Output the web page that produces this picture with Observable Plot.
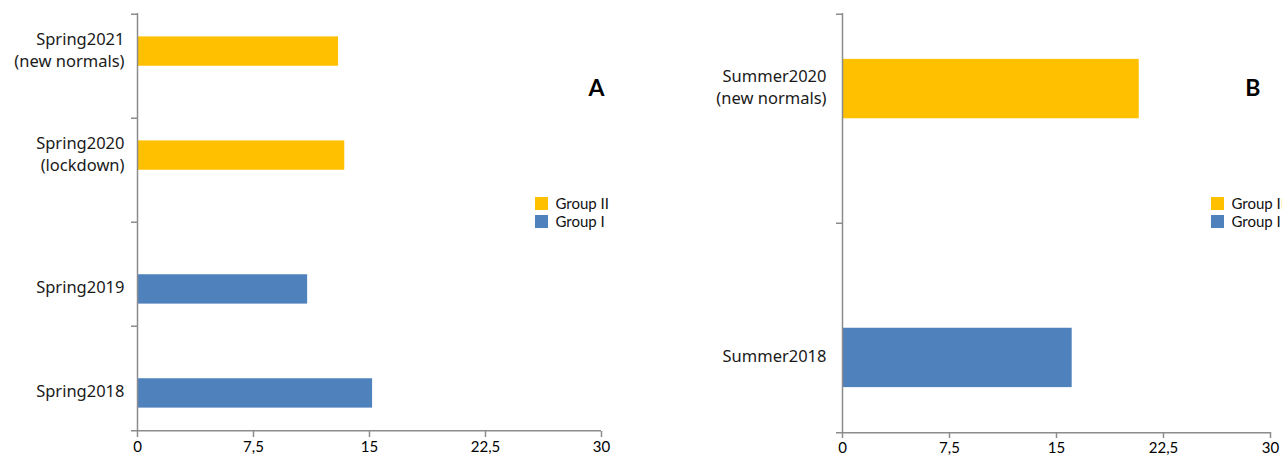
<!DOCTYPE html>
<html><head><meta charset="utf-8">
<script src="https://cdn.jsdelivr.net/npm/d3@7"></script>
<script src="https://cdn.jsdelivr.net/npm/@observablehq/plot@0.6"></script>
<style>
html,body{margin:0;padding:0;background:#fff;overflow:hidden;}
#wrap{position:relative;width:1282px;height:458px;display:flex;}
.panel{position:relative;width:641px;height:458px;}
.leg{position:absolute;width:160px;}
</style></head><body><div id="wrap"><div class="panel" id="pa"></div><div class="panel" id="pb"></div></div>
<script>
const groups = ["Group II", "Group I"];
const groupColors = ["#FFC000", "#4F81BD"];
const xTicks = [0, 7.5, 15, 22.5, 30];

const categoriesA = ["Spring2021\n(new normals)", "Spring2020\n(lockdown)", "Spring2019", "Spring2018"];
const valuesA = [13.0, 13.4, 11.0, 15.2];
const groupsA = ["Group II", "Group II", "Group I", "Group I"];

const categoriesB = ["Summer2020\n(new normals)", "Summer2018"];
const valuesB = [20.8, 16.1];
const groupsB = ["Group II", "Group I"];

function panel(el, {categories, values, groupsOf, letter, marginLeft, marginRight, marginBottom, labelGap, letterDx, legendLeft}) {
  const width = 641, height = 458, marginTop = 13;
  const data = categories.map((c, i) => ({category: c, value: values[i], group: groupsOf[i]}));
  const bw = (height - marginTop - marginBottom) / categories.length;
  const t = bw / 3.5; // bar thickness with 150% gap width
  const xMax = xTicks[xTicks.length - 1];
  const pxPerUnit = (width - marginLeft - marginRight) / xMax;
  const tickLen = 6 / pxPerUnit;
  const axisColor = "#8c8c8c";
  const inset = {"Group II": [0.75 * t, 1.75 * t], "Group I": [1.75 * t, 0.75 * t]};
  const offs = {"Group II": -0.5 * t, "Group I": 0.5 * t};
  const marks = [];
  for (const g of groups) {
    const d = data.filter(r => r.group === g);
    marks.push(Plot.barX(d, {y: "category", x: "value", fill: "group", insetTop: inset[g][0], insetBottom: inset[g][1]}));
    marks.push(Plot.text(d, {y: "category", x: 0, text: "category", textAnchor: "end", dx: -labelGap, dy: offs[g] - 3,
      lineHeight: 1.33, fontSize: 16.5, fill: "#1a1a1a", fontFamily: "Noto Sans"}));
  }
  marks.push(Plot.ruleX([0], {stroke: axisColor, strokeWidth: 1.5}));
  marks.push(Plot.ruleY(categories, {y: d => d, x1: -tickLen, x2: 0, dy: -bw / 2, stroke: axisColor, strokeWidth: 1.5}));
  marks.push(Plot.ruleY([categories[categories.length - 1]], {y: d => d, x1: -tickLen, x2: xMax, dy: bw / 2, stroke: axisColor, strokeWidth: 1.5}));
  marks.push(Plot.axisX({ticks: xTicks, tickSize: 6, tickPadding: 4, label: null, tickFormat: d => String(d).replace(".", ","),
    stroke: axisColor, strokeWidth: 1.5, fill: "#000", fontSize: 15, fontFamily: "Lato"}));
  marks.push(Plot.text([letter], {text: d => d, frameAnchor: "top-right", dx: letterDx, dy: 66, fontSize: 23, fontWeight: "bold", fontFamily: "Lato", fill: "#000"}));
  const chart = Plot.plot({
    width, height, marginTop, marginBottom, marginLeft, marginRight,
    style: {fontFamily: "Lato", fontSize: "15px", background: "#fff", overflow: "visible"},
    x: {domain: [0, xMax], label: null},
    y: {domain: categories, padding: 0, axis: null},
    color: {domain: groups, range: groupColors},
    marks
  });
  el.appendChild(chart);
  const leg = Plot.legend({legend: "swatches", color: {domain: groups, range: groupColors}, columns: 1, swatchSize: 13,
    style: {fontFamily: "Lato", fontSize: "15px", lineHeight: "17px", color: "#111", margin: "0"}});
  const wrap = document.createElement("div");
  wrap.className = "leg";
  wrap.style.left = legendLeft + "px";
  wrap.style.top = "195px";
  wrap.appendChild(leg);
  el.appendChild(wrap);
}

panel(document.getElementById("pa"), {categories: categoriesA, values: valuesA, groupsOf: groupsA, letter: "A",
  marginLeft: 137, marginRight: 40, marginBottom: 27, labelGap: 13, letterDx: 3, legendLeft: 535});
panel(document.getElementById("pb"), {categories: categoriesB, values: valuesB, groupsOf: groupsB, letter: "B",
  marginLeft: 201, marginRight: 12, marginBottom: 26, labelGap: 16, letterDx: -10, legendLeft: 570});
</script></body></html>
